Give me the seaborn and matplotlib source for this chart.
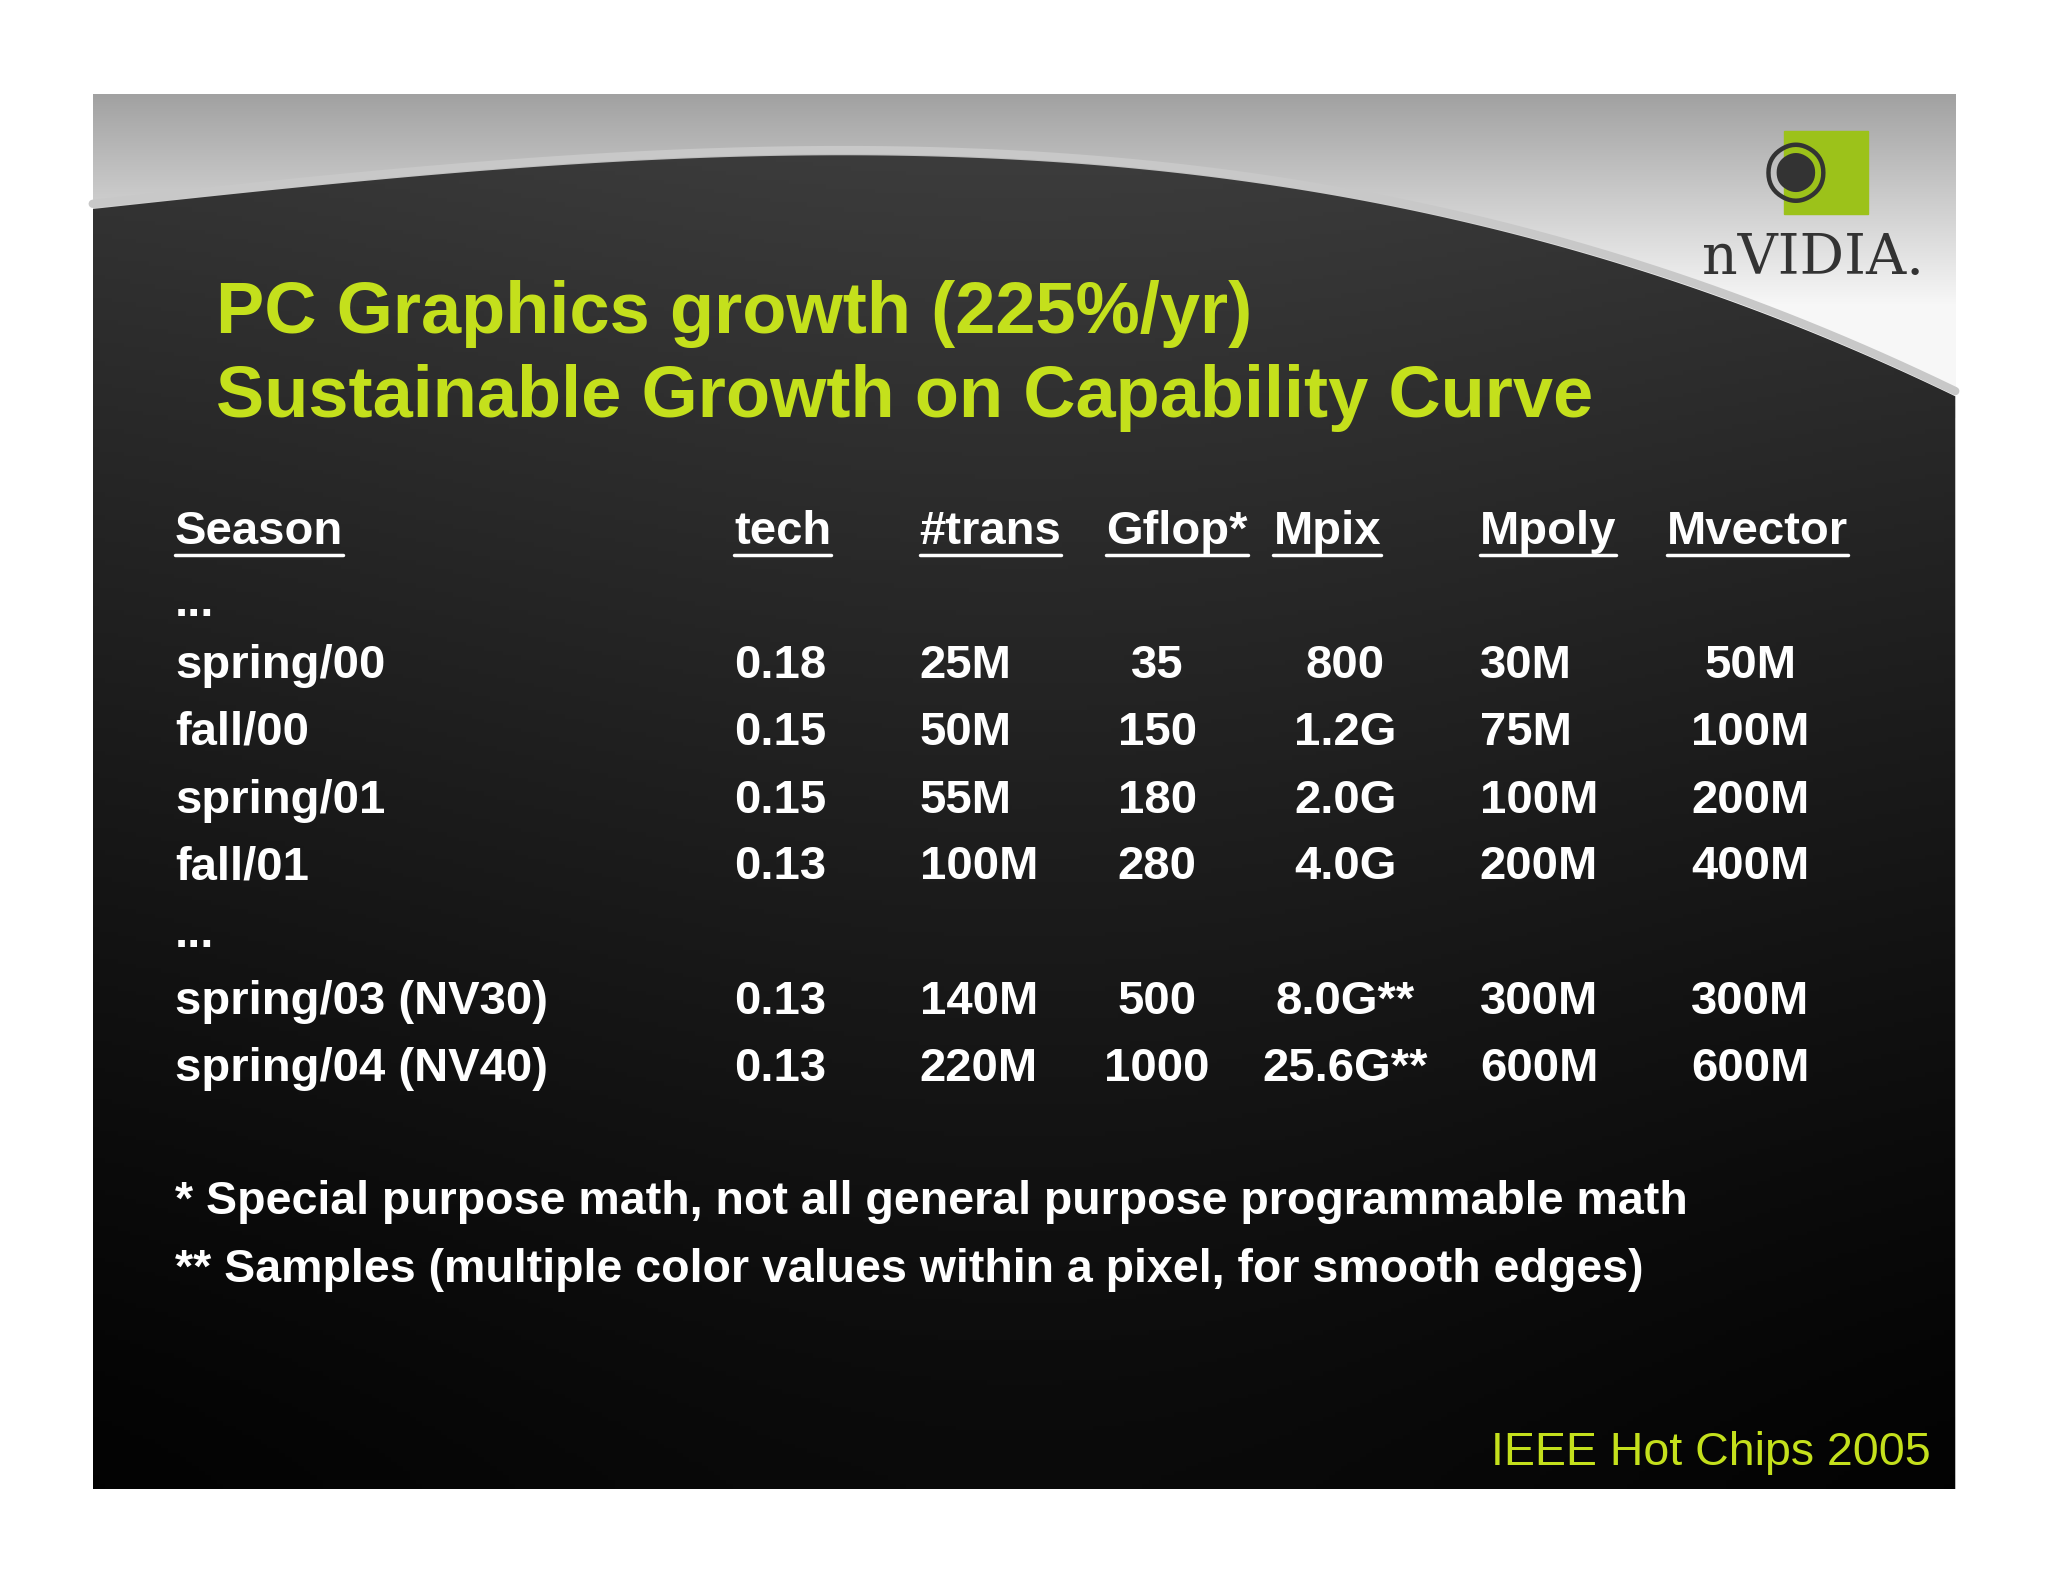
import numpy as np
import matplotlib
matplotlib.use("Agg")
import matplotlib.pyplot as plt
from matplotlib.patches import Polygon
import seaborn as sns

sns.set_style("white")
plt.rcParams['font.family'] = ['Liberation Sans', 'DejaVu Sans']

title_lines = ["PC Graphics growth (225%/yr)", "Sustainable Growth on Capability Curve"]
headers = ["Season", "tech", "#trans", "Gflop*", "Mpix", "Mpoly", "Mvector"]
seasons = ["...", "spring/00", "fall/00", "spring/01", "fall/01", "...", "spring/03 (NV30)", "spring/04 (NV40)"]
tech = ["", "0.18", "0.15", "0.15", "0.13", "", "0.13", "0.13"]
trans = ["", "25M", "50M", "55M", "100M", "", "140M", "220M"]
gflop = ["", "35", "150", "180", "280", "", "500", "1000"]
mpix = ["", "800", "1.2G", "2.0G", "4.0G", "", "8.0G**", "25.6G**"]
mpoly = ["", "30M", "75M", "100M", "200M", "", "300M", "600M"]
mvector = ["", "50M", "100M", "200M", "400M", "", "300M", "600M"]
footnotes = ["* Special purpose math, not all general purpose programmable math",
             "** Samples (multiple color values within a pixel, for smooth edges)"]
footer = "IEEE Hot Chips 2005"

W, H = 1568, 1211
fig = plt.figure(figsize=(20.48, 15.82), dpi=100)
ax = fig.add_axes([0, 0, 1, 1])
ax.set_xlim(0, W); ax.set_ylim(H, 0); ax.axis("off")

x0, x1, y0, y1 = 71, 1497, 72, 1140

# light top band with vertical gradient
lg = np.linspace(0.55, 1.0, 200)[:, None] * np.ones((1, 10))
lg = np.minimum(lg * 1.15, 0.97)
ax.imshow(np.dstack([lg] * 3), extent=(x0, x1, 320, y0), aspect="auto", zorder=0)

# dark slide body below the swoosh curve
xs = np.linspace(x0, x1, 300)
t = (xs - x0) / (x1 - x0)
curve = 160 - 70 * np.sin(np.pi * t * 0.7) + 200 * t ** 3
ax.plot(xs, curve - 4, color="#c8c8c8", lw=6, zorder=1)
yy = np.linspace(0, 1, 300)[:, None]
xx = np.linspace(0, 1, 300)[None, :]
grad = 0.2 * (1 - yy) ** 1.3 + 0.04 * np.exp(-((xx - 0.5) ** 2) / 0.2)
im = ax.imshow(np.dstack([grad] * 3), extent=(x0, x1, y1, 100), aspect="auto", zorder=1)
poly = Polygon(np.column_stack([np.r_[xs, x1, x0], np.r_[curve, y1, y1]]),
               closed=True, transform=ax.transData, fc="none", ec="none")
ax.add_patch(poly)
im.set_clip_path(poly)

green = "#c4e01c"
# logo
ax.add_patch(plt.Rectangle((1366, 100), 64, 64, color="#9cc21a", zorder=2))
ax.text(1375, 132, "◉", fontsize=56, color="#333333", ha="center", va="center", zorder=3)
ax.text(1388, 198, "nVIDIA.", fontsize=40, family="DejaVu Serif", color="#333333",
        ha="center", va="center", zorder=3)

for i, line in enumerate(title_lines):
    ax.text(165, 240 + 65 * i, line, fontsize=52, fontweight="bold", color=green,
            va="center", ha="left", zorder=3)

hx = [134, 562, 704, 847, 975, 1133, 1276]
for h, x in zip(headers, hx):
    ax.text(x, 407, h, fontsize=34, fontweight="bold", color="white",
            va="center", ha="left", zorder=3)
fig.canvas.draw()
r = fig.canvas.get_renderer()
inv = ax.transData.inverted()
for txt in ax.texts[-7:]:
    bb = txt.get_window_extent(r)
    (a, b), (c, d) = inv.transform([[bb.x0, bb.y0], [bb.x1, bb.y1]])
    ax.plot([a, c], [b + 1, b + 1], color="white", lw=2.5, zorder=3)

row_y = [462, 510, 561, 613, 664, 716, 767, 818]
cols = [(seasons, 134, "left"), (tech, 562, "left"), (trans, 704, "left"),
        (gflop, 886, "center"), (mpix, 1030, "center"), (mpoly, 1133, "left"),
        (mvector, 1340, "center")]
for vals, x, ha in cols:
    for v, y in zip(vals, row_y):
        if v:
            ax.text(x, y, v, fontsize=34, fontweight="bold", color="white",
                    va="center", ha=ha, zorder=3)

for i, f in enumerate(footnotes):
    ax.text(134, 920 + 52 * i, f, fontsize=33.5, fontweight="bold", color="white",
            va="center", ha="left", zorder=3)

ax.text(1478, 1112, footer, fontsize=33.5, color=green, va="center", ha="right", zorder=3)

fig.savefig("out.png", dpi=100, facecolor="white")
